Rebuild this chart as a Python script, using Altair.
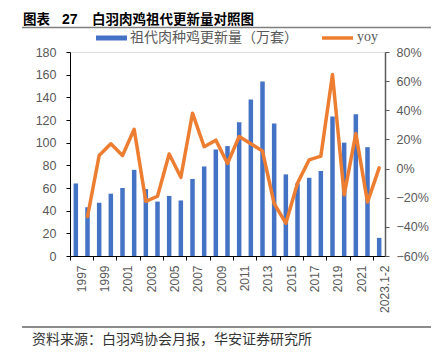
import altair as alt
import pandas as pd

categories = ["1997", "1998", "1999", "2000", "2001", "2002", "2003", "2004", "2005",
              "2006", "2007", "2008", "2009", "2010", "2011", "2012", "2013", "2014",
              "2015", "2016", "2017", "2018", "2019", "2020", "2021", "2022", "2023.1-2"]
updates = [64, 43, 47, 55, 60, 76, 59, 48, 53, 49, 68, 79, 94, 97, 118, 138, 154, 117,
           72, 64, 69, 75, 123, 100, 125, 96, 16]
yoy_pct = [None, -33, 9, 17, 9, 27, -22.5, -19, 10, -6, 38, 15, 19.5, 3.5, 22, 17, 12,
           -24, -37.5, -10, 6, 8.5, 64.5, -18, 24, -23, 0.5]
shown_labels = ["1997", "1999", "2001", "2003", "2005", "2007", "2009", "2011", "2013",
                "2015", "2017", "2019", "2021", "2023.1-2"]

df = pd.DataFrame({
    "cat": categories,
    "val": updates,
    "yoy": [None if v is None else v / 100 for v in yoy_pct],
})

CJK = "Noto Sans CJK SC"
GREY = "#595959"

xenc = alt.X(
    "cat:N", sort=categories, title=None,
    scale=alt.Scale(paddingInner=0, paddingOuter=0),
    axis=alt.Axis(values=shown_labels, bandPosition=0, labelOffset=5.8, labelAngle=270,
                  labelFont="Liberation Sans", labelFontSize=12, labelColor=GREY,
                  labelPadding=5, tickSize=4, tickColor="#000", domainColor="#000",
                  labelAlign="right", labelBaseline="middle"),
)

bars = alt.Chart(df).mark_bar(size=4.5, color="#4472C4").encode(
    x=xenc,
    y=alt.Y("val:Q", title=None,
            scale=alt.Scale(domain=[0, 180], nice=False),
            axis=alt.Axis(values=list(range(0, 181, 20)), grid=False, tickSize=4,
                          labelFont="Liberation Sans", labelFontSize=12.5, labelColor=GREY,
                          labelPadding=10, domainColor="#000", tickColor="#000")),
)

line = alt.Chart(df).transform_filter("datum.yoy != null").mark_line(
    color="#ED7D31", strokeWidth=3.5, strokeJoin="round", strokeCap="round"
).encode(
    x=alt.X("cat:N", sort=categories),
    y=alt.Y("yoy:Q", title=None,
            scale=alt.Scale(domain=[-0.6, 0.8], nice=False),
            axis=alt.Axis(orient="right", format=".0%",
                          values=[-0.6, -0.4, -0.2, 0, 0.2, 0.4, 0.6, 0.8], grid=False,
                          tickSize=4, labelFont="Liberation Sans", labelFontSize=12.5,
                          labelColor=GREY, labelPadding=7, domainColor="#595959",
                          tickColor="#595959", domainWidth=1.5)),
)

# decorations (title, legend, frame lines, source)
def txt(s, x, y, size, weight="normal", color="#000", font=CJK):
    return alt.Chart(df).mark_text(
        text=s, align="left", baseline="middle", fontSize=size, fontWeight=weight,
        color=color, font=font
    ).encode(x=alt.value(x), y=alt.value(y)).transform_filter("datum.cat == '1997'")

t1 = txt("图表", -47, -32, 13.5, "bold")
t2 = txt("27", -8, -32, 14, "bold", font="Liberation Sans")
t3 = txt("白羽肉鸡祖代更新量对照图", 22, -32, 13.5, "bold")

top_line = alt.Chart(df).transform_filter("datum.cat == '1997'").mark_rule(
    color="#7f7f7f", strokeWidth=1.5
).encode(x=alt.value(-48), x2=alt.value(369), y=alt.value(-24.5))
bot_line = alt.Chart(df).transform_filter("datum.cat == '1997'").mark_rule(
    color="#8c8c8c", strokeWidth=2
).encode(x=alt.value(-48), x2=alt.value(369), y=alt.value(275))

leg_rect = alt.Chart(df).transform_filter("datum.cat == '1997'").mark_rect(
    color="#4472C4"
).encode(x=alt.value(26), x2=alt.value(57), y=alt.value(-16.5), y2=alt.value(-11.5))
leg_txt1 = txt("祖代肉种鸡更新量（万套）", 60, -14, 14, color=GREY)
leg_line = alt.Chart(df).transform_filter("datum.cat == '1997'").mark_rule(
    color="#ED7D31", strokeWidth=3.5
).encode(x=alt.value(252), x2=alt.value(283), y=alt.value(-14))
leg_txt2 = txt("yoy", 287, -15, 14, color=GREY, font="Liberation Serif")

src = txt("资料来源：白羽鸡协会月报，华安证券研究所", -38, 288, 14, color="#333")

chart = alt.layer(
    bars, line, t1, t2, t3, top_line, bot_line, leg_rect, leg_txt1, leg_line, leg_txt2, src
).resolve_scale(y="independent").properties(
    width=315, height=204,
    autosize=alt.AutoSizeParams(type="none"),
    padding={"left": 62, "top": 44, "right": 46, "bottom": 98},
).configure_view(stroke=None).configure(background="white")

chart.save("out.html", embed_options={"renderer": "svg", "actions": False})
